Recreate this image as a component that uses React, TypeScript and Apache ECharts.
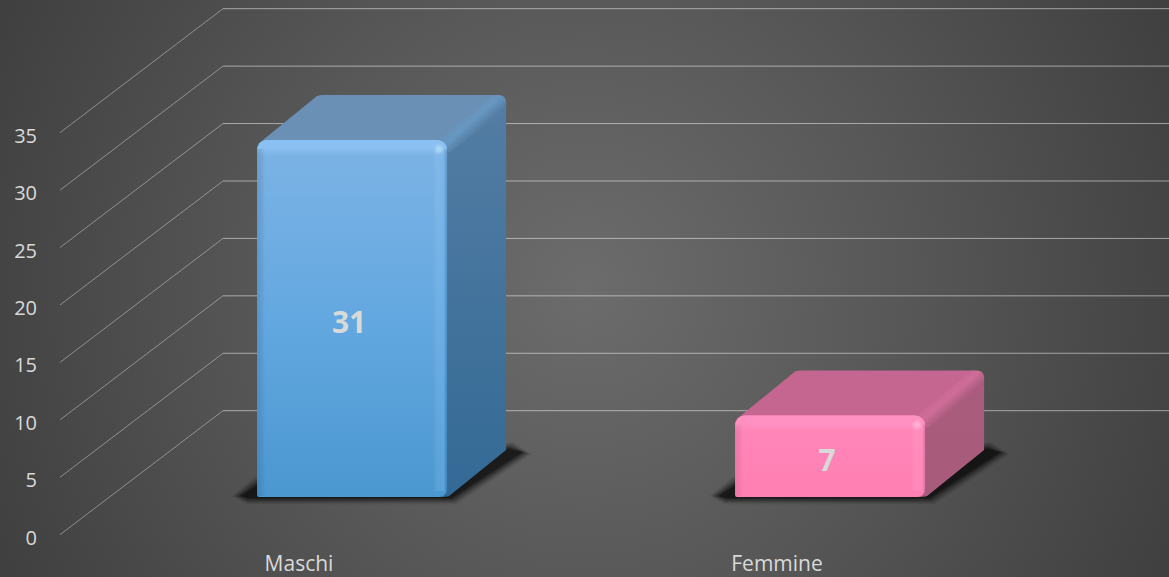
import React, { useEffect, useRef } from "react";
import * as echarts from "echarts";

const categories = ["Maschi", "Femmine"];
const values = [31, 7];
const yTicks = [0, 5, 10, 15, 20, 25, 30, 35];

const WIDTH = 1169;
const HEIGHT = 577;
const FONT = "'Open Sans', Lato, sans-serif";
const WALL_DX = 163;
const WALL_DY = 124;

const palettes = [
  {
    frontTop: "#7db3e5", frontMid: "#63a8e0", frontBottom: "#4b97d0",
    topBand: "rgba(138,193,242,1)", topFade: "rgba(138,193,242,0)", corner: "rgba(190,225,250,0.5)",
    top: "#6b90b6", strip: "#6797c1",
    sideTop: "#547da3", sideBottom: "#336a95", rightTop: "rgba(140,200,250,0.22)",
    rightBottom: "rgba(110,185,250,0.36)", leftEdge: "rgba(30,70,110,0.18)",
  },
  {
    frontTop: "#ff86b8", frontMid: "#ff83b6", frontBottom: "#ff80b3",
    topBand: "rgba(255,144,194,1)", topFade: "rgba(255,144,194,0)", corner: "rgba(255,190,220,0.5)",
    top: "#c46690", strip: "#cf6d99",
    sideTop: "#a95c7d", sideBottom: "#a95b7b", rightTop: "rgba(255,170,210,0.2)",
    rightBottom: "rgba(255,170,210,0.22)", leftEdge: "rgba(120,30,70,0.12)",
  },
];

const vGrad = (stops: [number, string][]) =>
  new echarts.graphic.LinearGradient(0, 0, 0, 1, stops.map(([offset, color]) => ({ offset, color })));
const hGrad = (stops: [number, string][]) =>
  new echarts.graphic.LinearGradient(0, 0, 1, 0, stops.map(([offset, color]) => ({ offset, color })));

function renderWall(params: any, api: any) {
  const cs = params.coordSys;
  const y = api.coord([0, api.value(1)])[1];
  const x0 = cs.x;
  const backX = x0 + WALL_DX;
  const backY = y - WALL_DY;
  return {
    type: "group",
    children: [
      { type: "line", shape: { x1: x0, y1: y, x2: backX, y2: backY }, style: { stroke: "rgba(255,255,255,0.38)", lineWidth: 1 } },
      { type: "line", shape: { x1: backX, y1: backY, x2: x0 + cs.width + WALL_DX, y2: backY }, style: { stroke: "rgba(255,255,255,0.5)", lineWidth: 1 } },
    ],
  };
}

const SHADOW_STEPS: [number, number][] = [
  [8, 0.05], [7, 0.06], [6, 0.07], [5, 0.09], [4, 0.11], [3, 0.13], [2, 0.16], [1, 0.2], [0, 0.25],
];

function shadowLayers(L: number, R: number, bot: number, dx: number, dy: number) {
  const verts = [
    [L + 1, bot - 12, -0.5, -1],
    [L - 16, bot - 1, -1.2, 0],
    [L - 8, bot + 1, -0.3, 0.8],
    [R + 4, bot + 1, 0.7, 0.8],
    [R + dx + 16, bot - dy, 1.2, 0.3],
    [R + dx + 3, bot - dy - 3, 0.5, -0.9],
  ];
  return SHADOW_STEPS.map(([e, a]) => ({
    type: "polygon",
    shape: { points: verts.map(([x, y, ox, oy]) => [x + ox * e, y + oy * e]) },
    style: { fill: `rgba(0,0,0,${a})` },
  }));
}

function renderBar(params: any, api: any) {
  const idx = api.value(0);
  const value = api.value(1);
  const p = palettes[idx];
  const band = api.size([1, 0])[0];
  const base = api.coord([idx, 0]);
  const head = api.coord([idx, value]);
  const cx = base[0] + band * 0.111;
  const w = band * 0.3975;
  const L = cx - w / 2;
  const R = cx + w / 2;
  const bot = base[1] - 37.7;
  const top = head[1] - 38.7;
  const dx = 59;
  const dy = 45;
  const h = bot - top;
  return {
    type: "group",
    children: [
      ...shadowLayers(L, R, bot, dx, dy),
      {
        type: "path",
        shape: { pathData: `M${R - 3} ${top}L${R + dx - 8} ${top - dy}Q${R + dx} ${top - dy} ${R + dx} ${top - dy + 8}L${R + dx} ${bot - dy - 2}L${R + 2} ${bot - 1}Q${R - 1} ${bot} ${R - 8} ${bot}Z` },
        style: { fill: vGrad([[0, p.sideTop], [1, p.sideBottom]]) },
      },
      {
        type: "path",
        shape: { pathData: `M${L + 1} ${top + 4}L${L + 60} ${top - dy + 1}Q${L + 62} ${top - dy} ${L + 66} ${top - dy}L${R + dx - 10} ${top - dy}L${R - 4} ${top + 2}Z` },
        style: { fill: p.top },
      },
      {
        type: "path",
        shape: { pathData: `M${R - 8} ${top}L${R + dx - 12} ${top - dy}L${R + dx - 8} ${top - dy}Q${R + dx} ${top - dy} ${R + dx} ${top - dy + 8}L${R + dx} ${top - dy + 16}L${R + 2} ${top + 13}Z` },
        style: {
          fill: new echarts.graphic.LinearGradient(0, 0, 1, 1, [
            { offset: 0.33, color: p.top },
            { offset: 0.47, color: p.strip },
            { offset: 0.6, color: p.sideTop },
          ]),
        },
      },
      {
        type: "rect",
        shape: { x: L, y: top, width: w, height: h, r: [10, 10, 8, 2] },
        style: { fill: vGrad([[0, p.frontTop], [0.5, p.frontMid], [1, p.frontBottom]]) },
      },
      {
        type: "rect",
        shape: { x: L, y: top, width: w, height: 16, r: [10, 10, 0, 0] },
        style: { fill: vGrad([[0, p.topBand], [0.5, p.topBand], [1, p.topFade]]) },
      },
      {
        type: "rect",
        shape: { x: L, y: top + 9, width: 8, height: h - 10 },
        style: { fill: hGrad([[0, p.leftEdge], [1, "rgba(0,0,0,0)"]]) },
      },
      {
        type: "rect",
        shape: { x: R - 14, y: top + 9, width: 14, height: h - 15 },
        style: { fill: hGrad([[0, "rgba(255,255,255,0)"], [0.55, p.rightTop], [0.8, p.rightBottom], [1, "rgba(0,0,0,0.1)"]]) },
      },
      { type: "circle", shape: { cx: R - 8, cy: top + 9, r: 5 }, style: { fill: p.corner, opacity: 0.5 } },
      { type: "circle", shape: { cx: R - 8, cy: top + 9, r: 3 }, style: { fill: p.corner } },
      {
        type: "text",
        style: {
          text: String(value),
          x: cx - 3,
          y: (top + bot) / 2 + 3,
          align: "center",
          verticalAlign: "middle",
          fill: "#d9d9d9",
          font: `bold 30px ${FONT}`,
        },
      },
    ],
  };
}

export default function App() {
  const ref = useRef<HTMLDivElement>(null);
  useEffect(() => {
    document.body.style.margin = "0";
    document.body.style.overflow = "hidden";
    const chart = echarts.init(ref.current!, null, { renderer: "svg" });
    chart.setOption({
      animation: false,
      backgroundColor: new echarts.graphic.RadialGradient(585, 288, 640, [
        { offset: 0, color: "#6c6c6c" },
        { offset: 0.5, color: "#575757" },
        { offset: 1, color: "#404040" },
      ], true),
      grid: { left: 60, top: 132.7, width: 956, height: 402, containLabel: false },
      xAxis: {
        type: "category",
        data: categories,
        axisLine: { show: false },
        axisTick: { show: false },
        axisLabel: { color: "#d9d9d9", fontFamily: FONT, fontSize: 21, margin: 18.5, lineHeight: 20 },
      },
      yAxis: {
        type: "value",
        min: 0,
        max: 35,
        interval: 5,
        axisLine: { show: false },
        axisTick: { show: false },
        splitLine: { show: false },
        axisLabel: { color: "#d9d9d9", fontFamily: FONT, fontSize: 20, margin: 23, verticalAlign: "top", lineHeight: 5 },
      },
      series: [
        {
          type: "custom",
          name: "wall",
          z: 1,
          silent: true,
          renderItem: renderWall,
          encode: { x: 0, y: 1 },
          data: yTicks.map((t) => [0, t]),
        },
        {
          type: "custom",
          name: "bars",
          z: 2,
          renderItem: renderBar,
          encode: { x: 0, y: 1 },
          data: values.map((v, i) => [i, v]),
        },
      ],
    });
    return () => chart.dispose();
  }, []);
  return <div ref={ref} style={{ width: WIDTH, height: HEIGHT }} />;
}
